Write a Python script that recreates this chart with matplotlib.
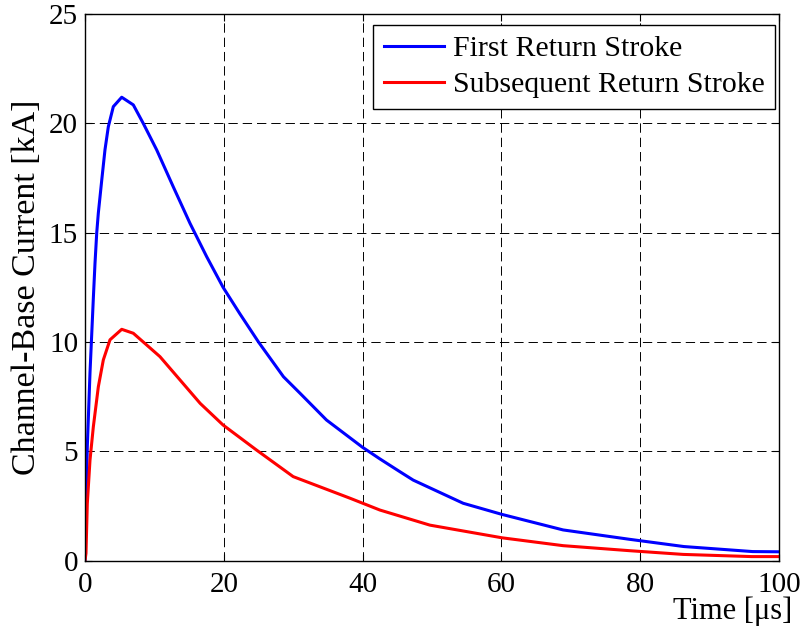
import numpy as np
import matplotlib.pyplot as plt

plt.rcParams['font.family'] = 'Liberation Serif'

# first return stroke (time in us, current in kA)
t_first = [0, 0.1, 0.33, 0.72, 1.2, 1.44, 1.69, 1.92, 2.41, 2.88, 3.36, 4.08, 5.29,
           6.96, 8.4, 10.33, 12.72, 15.13, 17.54, 19.9, 22.3, 25.0, 28.6, 31.0,
           34.8, 40.0, 42.5, 45.4, 47.3, 54.5, 60.1, 68.9, 78.5, 86.3, 96.2, 100]
i_first = [0, 2.0, 5.2, 8.6, 12.0, 13.6, 15.0, 15.9, 17.4, 18.8, 19.85, 20.77, 21.2,
           20.85, 20.0, 18.79, 17.1, 15.43, 13.9, 12.5, 11.3, 10.0, 8.41, 7.65,
           6.43, 5.18, 4.65, 4.06, 3.68, 2.62, 2.11, 1.40, 0.97, 0.64, 0.41, 0.40]

# subsequent return stroke
t_sub = [0, 0.14, 0.33, 0.72, 1.2, 1.92, 2.64, 3.6, 5.29, 6.96, 10.8, 13.7, 16.6,
         19.9, 24.7, 30.0, 38.2, 42.5, 49.7, 60.1, 68.9, 78.5, 86.2, 96.1, 100]
i_sub = [0, 0.33, 2.6, 4.6, 6.12, 7.95, 9.18, 10.1, 10.58, 10.4, 9.33, 8.26, 7.19,
         6.2, 5.06, 3.84, 2.85, 2.31, 1.62, 1.04, 0.68, 0.45, 0.28, 0.18, 0.18]

fig = plt.figure(figsize=(8.05, 6.39), dpi=100)
ax = fig.add_axes([0.1056, 0.1228, 0.862, 0.855])

ax.plot(t_first, i_first, color='blue', lw=2.2, label='First Return Stroke')
ax.plot(t_sub, i_sub, color='red', lw=2.2, label='Subsequent Return Stroke')

ax.set_xlim(0, 100)
ax.set_ylim(0, 25)
ax.set_xticks([0, 20, 40, 60, 80, 100])
ax.set_yticks([0, 5, 10, 15, 20, 25])
ax.grid(True, color='black', linestyle=(0, (9.6, 5.1)), lw=0.7)
ax.tick_params(direction='in', top=True, right=True, labelsize=21, length=5)
ax.tick_params(axis='x', pad=8)
ax.tick_params(axis='y', pad=5)
for s in ax.spines.values():
    s.set_linewidth(1.0)

ax.set_xlabel('Time [\u03bcs]', fontsize=22, loc='right')
ax.xaxis.set_label_coords(1.019, -0.065)
ax.set_ylabel('Channel-Base Current [kA]', fontsize=24.5)
ax.yaxis.set_label_coords(-0.062, 0.5)

leg = ax.legend(loc='upper right', bbox_to_anchor=(0.994, 0.98), fontsize=21.5,
                fancybox=False, framealpha=1, edgecolor='black', handlelength=2.0,
                handletextpad=0.3, borderaxespad=0, labelspacing=0.3, borderpad=0.35)
leg.get_frame().set_linewidth(1.0)

fig.savefig('out.png', dpi=100)
